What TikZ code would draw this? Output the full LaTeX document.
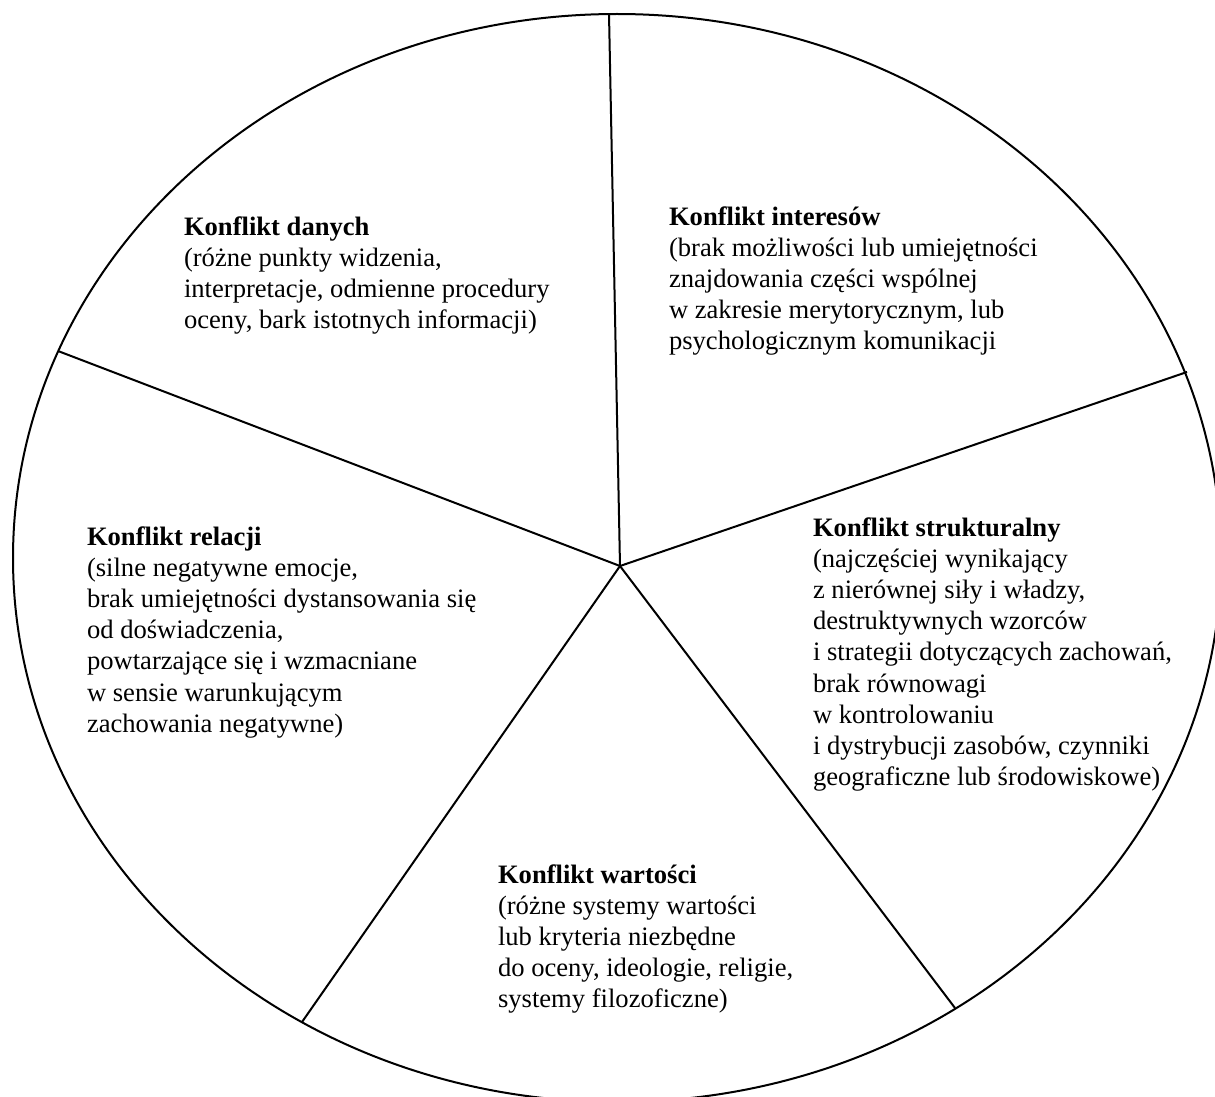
\documentclass[tikz,border=0pt]{standalone}
\usepackage{fontspec}
\setmainfont{Liberation Serif}
\begin{document}
\begin{tikzpicture}[x=0.5pt,y=-0.5pt,line width=1pt,
  lbl/.style={anchor=base west,inner sep=0pt,font=\fontsize{13.3}{15.6}\selectfont},
  spoke/.style={line width=1pt}]
\useasboundingbox (0,0) rectangle (1215,1097);
\clip (0,0) rectangle (1215,1097);
\coordinate (c) at (620,566);
\coordinate (ptop) at (609,14);
\coordinate (pright) at (1187,372);
\coordinate (plr) at (955,1008);
\coordinate (pbl) at (302,1022);
\coordinate (pleft) at (58,351);
\draw (617,558) ellipse [x radius=302pt, y radius=272pt];
\draw[spoke] (c) -- (ptop);
\draw[spoke] (c) -- (pright);
\draw[spoke] (c) -- (plr);
\draw[spoke] (c) -- (pbl);
\draw[spoke] (c) -- (pleft);
\node[lbl] (danych) at (183,235) {\begin{tabular}[t]{@{}l@{}}\textbf{Konflikt danych}\\(różne punkty widzenia,\\interpretacje, odmienne procedury\\oceny, bark istotnych informacji)\end{tabular}};
\node[lbl] (interesow) at (668,225) {\begin{tabular}[t]{@{}l@{}}\textbf{Konflikt interesów}\\(brak możliwości lub umiejętności\\znajdowania części wspólnej\\w zakresie merytorycznym, lub\\psychologicznym komunikacji\end{tabular}};
\node[lbl] (relacji) at (86,545) {\begin{tabular}[t]{@{}l@{}}\textbf{Konflikt relacji}\\(silne negatywne emocje,\\brak umiejętności dystansowania się\\od doświadczenia,\\powtarzające się i wzmacniane\\w sensie warunkującym\\zachowania negatywne)\end{tabular}};
\node[lbl] (strukt) at (812,536) {\begin{tabular}[t]{@{}l@{}}\textbf{Konflikt strukturalny}\\(najczęściej wynikający\\z nierównej siły i władzy,\\destruktywnych wzorców\\i strategii dotyczących zachowań,\\brak równowagi\\w kontrolowaniu\\i dystrybucji zasobów, czynniki\\geograficzne lub środowiskowe)\end{tabular}};
\node[lbl] (wartosci) at (497,883) {\begin{tabular}[t]{@{}l@{}}\textbf{Konflikt wartości}\\(różne systemy wartości\\lub kryteria niezbędne\\do oceny, ideologie, religie,\\systemy filozoficzne)\end{tabular}};
\end{tikzpicture}
\end{document}
